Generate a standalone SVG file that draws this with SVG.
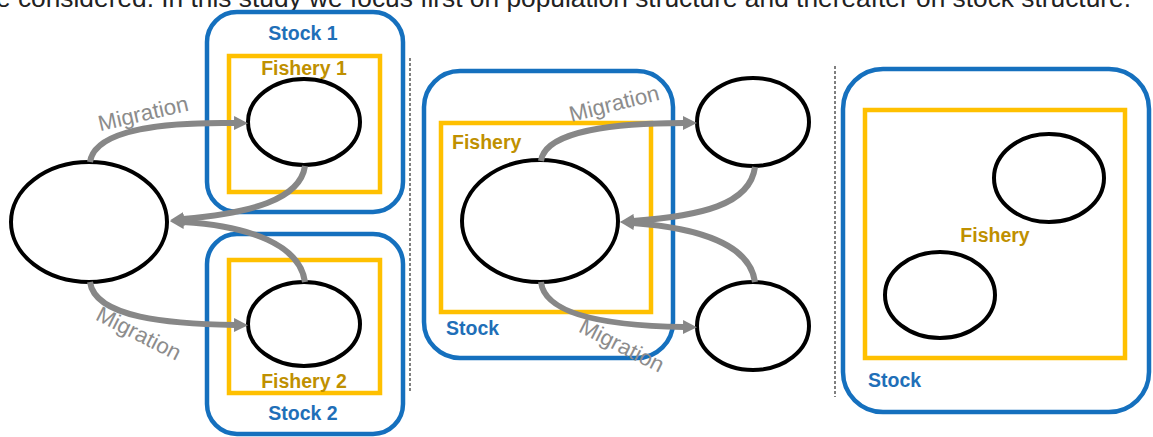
<svg xmlns="http://www.w3.org/2000/svg" width="1153" height="437" viewBox="0 0 1153 437">
<style>
.stock{fill:none;stroke:#1570BE;stroke-width:4.5}
.fish{fill:none;stroke:#FFC000;stroke-width:4.5}
.pop{fill:#fff;stroke:#000;stroke-width:4}
.arr{fill:none;stroke:#878787;stroke-width:6}
.div{stroke:#555;stroke-width:1.5;stroke-dasharray:3 2}
.st{font-family:"Liberation Sans",Arial,sans-serif;font-weight:bold;font-size:19.5px;fill:#1F6FB8}
.ft{font-family:"Liberation Sans",Arial,sans-serif;font-weight:bold;font-size:19.5px;fill:#BF9000}
.mg{font-family:"Liberation Sans",Arial,sans-serif;font-size:22px;fill:#8C8C8C}
</style>
<defs>
<marker id="ah" viewBox="0 0 14 14" markerWidth="14" markerHeight="14" markerUnits="userSpaceOnUse" refX="1" refY="7" orient="auto">
<path d="M0,0 L14,7 L0,14 z" fill="#878787"/>
</marker>
</defs>
<rect width="1153" height="437" fill="#fff"/>
<text x="-4" y="7" font-family="'Liberation Sans',Arial,sans-serif" font-size="26" fill="#222" textLength="1135" lengthAdjust="spacingAndGlyphs">e considered. In this study we focus first on population structure and thereafter on stock structure.</text>

<line class="div" x1="410" y1="58" x2="410" y2="393"/>
<line class="div" x1="835" y1="66" x2="835" y2="397"/>

<g id="stock1">
<rect class="stock" x="207" y="12" width="196" height="200" rx="30"/>
<text class="st" x="303" y="40" text-anchor="middle">Stock 1</text>
</g>
<g id="fishery1">
<rect class="fish" x="229" y="56" width="151" height="136"/>
<text class="ft" x="304" y="75" text-anchor="middle">Fishery 1</text>
</g>
<g id="pop1"><ellipse class="pop" cx="304" cy="122" rx="56" ry="43"/></g>

<g id="stock2">
<rect class="stock" x="207" y="234" width="196" height="200" rx="30"/>
<text class="st" x="303" y="420" text-anchor="middle">Stock 2</text>
</g>
<g id="fishery2">
<rect class="fish" x="229" y="260" width="151" height="133"/>
<text class="ft" x="304" y="388" text-anchor="middle">Fishery 2</text>
</g>
<g id="pop2"><ellipse class="pop" cx="304" cy="324" rx="56" ry="42"/></g>

<g id="popLeft"><ellipse class="pop" cx="89" cy="222" rx="78" ry="60"/></g>

<g id="stockMid">
<rect class="stock" x="424" y="71" width="249" height="287" rx="36"/>
<text class="st" x="446" y="335">Stock</text>
</g>
<g id="fisheryMid">
<rect class="fish" x="441" y="123" width="210" height="189"/>
<text class="ft" x="452" y="149">Fishery</text>
</g>
<g id="popMid"><ellipse class="pop" cx="540" cy="221" rx="78" ry="61"/></g>
<g id="popMidTop"><ellipse class="pop" cx="753" cy="122" rx="56" ry="44"/></g>
<g id="popMidBottom"><ellipse class="pop" cx="753" cy="326" rx="56" ry="44"/></g>

<g id="stockRight">
<rect class="stock" x="843" y="69" width="306" height="343" rx="40"/>
<text class="st" x="868" y="387">Stock</text>
</g>
<g id="fisheryRight">
<rect class="fish" x="865" y="110" width="260" height="248"/>
<text class="ft" x="995" y="242" text-anchor="middle">Fishery</text>
</g>
<g id="popRightA"><ellipse class="pop" cx="1049" cy="178" rx="55" ry="44"/></g>
<g id="popRightB"><ellipse class="pop" cx="940" cy="295" rx="55" ry="43"/></g>

<g id="connectors">
<path class="arr" marker-end="url(#ah)" d="M90,162 C95,128 170,122 235,123"/>
<path class="arr" marker-end="url(#ah)" d="M305,166 C300,200 250,213 183,219"/>
<path class="arr" marker-end="url(#ah)" d="M305,282 C300,245 250,226 183,222"/>
<path class="arr" marker-end="url(#ah)" d="M90,282 C95,318 170,324 235,325"/>
<path class="arr" marker-end="url(#ah)" d="M541,161 C545,130 620,123 684,123"/>
<path class="arr" marker-end="url(#ah)" d="M755,167 C750,205 700,216 633,221"/>
<path class="arr" marker-end="url(#ah)" d="M755,282 C750,245 700,228 633,223"/>
<path class="arr" marker-end="url(#ah)" d="M541,282 C545,318 620,326 684,327"/>
<text class="mg" transform="translate(143,113) rotate(-13)" x="0" y="8" text-anchor="middle" textLength="92" lengthAdjust="spacingAndGlyphs">Migration</text>
<text class="mg" transform="translate(139,333) rotate(27)" x="0" y="8" text-anchor="middle" textLength="92" lengthAdjust="spacingAndGlyphs">Migration</text>
<text class="mg" transform="translate(614,103) rotate(-14)" x="0" y="8" text-anchor="middle" textLength="92" lengthAdjust="spacingAndGlyphs">Migration</text>
<text class="mg" transform="translate(622,345) rotate(27)" x="0" y="8" text-anchor="middle" textLength="92" lengthAdjust="spacingAndGlyphs">Migration</text>
</g>
</svg>
